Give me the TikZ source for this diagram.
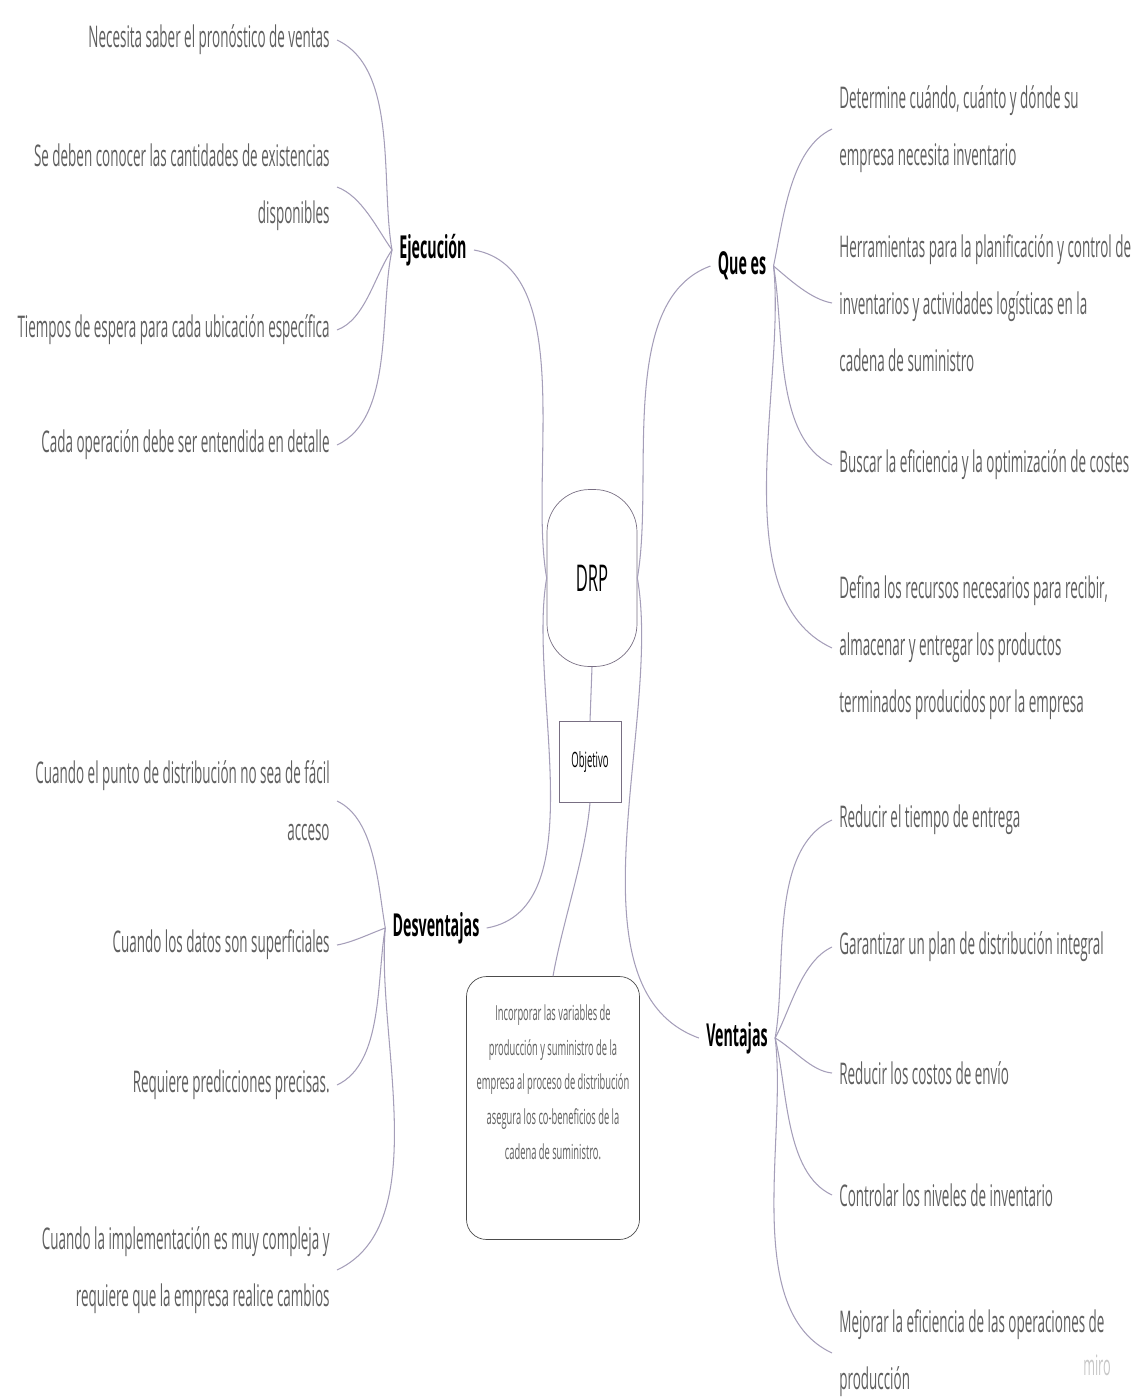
\documentclass[tikz,border=0pt]{standalone}
\usepackage{fontspec}
\newfontfamily\mapfont[FakeStretch=0.45]{Open Sans}
\definecolor{leafgray}{RGB}{95,95,95}
\definecolor{linkgray}{RGB}{165,158,185}
\definecolor{boxgray}{RGB}{120,110,130}
\tikzset{
  every leaf/.style={
    font=\mapfont\fontsize{17}{32.5}\selectfont,
    text=leafgray,
    inner sep=4pt
  },
  every branch/.style={
    font=\mapfont\bfseries\fontsize{18}{20}\selectfont,
    text=black,
    inner sep=4pt
  },
  every link/.style={
    draw=linkgray,
    line width=0.6pt,
    looseness=0.8
  }
}

\begin{document}
\begin{tikzpicture}[x=0.02cm, y=-0.02cm]
  \useasboundingbox (0,0) rectangle (1140,1397);
  % Node placement
  \node [draw=boxgray, rounded corners=0.85cm, minimum width=1.8cm, minimum height=3.54cm,
         font=\mapfont\fontsize{21}{22}\selectfont] (DRP) at (592,578) {DRP};
  \node [draw=boxgray, minimum width=1.24cm, minimum height=1.62cm,
         font=\mapfont\fontsize{12}{13}\selectfont] (OBJ) at (590,762) {Objetivo};
  \node [draw=black!70, rounded corners=0.4cm, minimum width=3.46cm, minimum height=5.26cm,
         align=center, text=leafgray, font=\mapfont\fontsize{11.8}{19.7}\selectfont] (NOTA) at (553,1108)
        {Incorporar las variables de\\producción y suministro de la\\empresa al proceso de distribución\\asegura los co-beneficios de la\\cadena de suministro.\\[10pt]};

  \node [every branch] (EJ) at (433,250) {Ejecución};
  \node [every branch] (QE) at (742,266) {Que es};
  \node [every branch] (DE) at (436,928) {Desventajas};
  \node [every branch] (VE) at (737,1038) {Ventajas};

  \node [every leaf, anchor=east] (E1) at (337,40) {Necesita saber el pronóstico de ventas};
  \node [every leaf, anchor=east, align=right] (E2) at (337,187) {Se deben conocer las cantidades de existencias\\disponibles};
  \node [every leaf, anchor=east] (E3) at (337,330) {Tiempos de espera para cada ubicación específica};
  \node [every leaf, anchor=east] (E4) at (337,445) {Cada operación debe ser entendida en detalle};

  \node [every leaf, anchor=west, align=left] (Q1) at (832,129) {Determine cuándo, cuánto y dónde su\\empresa necesita inventario};
  \node [every leaf, anchor=west, align=left] (Q2) at (832,303) {Herramientas para la planificación y control de\\inventarios y actividades logísticas en la\\cadena de suministro};
  \node [every leaf, anchor=west] (Q3) at (832,465) {Buscar la eficiencia y la optimización de costes};
  \node [every leaf, anchor=west, align=left] (Q4) at (832,648) {Defina los recursos necesarios para recibir,\\almacenar y entregar los productos\\terminados producidos por la empresa};

  \node [every leaf, anchor=east, align=right] (D1) at (337,801) {Cuando el punto de distribución no sea de fácil\\acceso};
  \node [every leaf, anchor=east] (D2) at (337,945) {Cuando los datos son superficiales};
  \node [every leaf, anchor=east] (D3) at (337,1085) {Requiere predicciones precisas.};
  \node [every leaf, anchor=east, align=right] (D4) at (337,1270) {Cuando la implementación es muy compleja y\\requiere que la empresa realice cambios};

  \node [every leaf, anchor=west] (V1) at (832,820) {Reducir el tiempo de entrega};
  \node [every leaf, anchor=west] (V2) at (832,947) {Garantizar un plan de distribución integral};
  \node [every leaf, anchor=west] (V3) at (832,1073) {Reducir los costos de envío};
  \node [every leaf, anchor=west] (V4) at (832,1195) {Controlar los niveles de inventario};
  \node [every leaf, anchor=west, align=left] (V5) at (832,1353) {Mejorar la eficiencia de las operaciones de\\producción};

  \node [font=\mapfont\fontsize{16}{16}\selectfont, text=black!22] (MIRO) at (1097,1365) {miro};

  % Arrows
  \draw [every link] (EJ.east) to[out=-10, in=100] (DRP.west);
  \draw [every link] (DRP.east) to[out=80, in=200] (QE.west);
  \draw [every link] (DE.east) to[out=10, in=-100] (DRP.west);
  \draw [every link] (DRP.east) to[out=-80, in=160] (VE.west);
  \draw [every link] (DRP.south) -- (OBJ.north);
  \draw [every link] (OBJ.south) to[out=-95, in=80] (NOTA.north);

  \draw [every link] (EJ.west) to[out=100, in=-25] (E1.east);
  \draw [every link] (EJ.west) to[out=125, in=-20] (E2.east);
  \draw [every link] (EJ.west) to[out=235, in=20] (E3.east);
  \draw [every link] (EJ.west) to[out=258, in=25] (E4.east);

  \draw [every link] (QE.east) to[out=78, in=205] (Q1.west);
  \draw [every link] (QE.east) to[out=-40, in=170] (Q2.west);
  \draw [every link] (QE.east) to[out=-80, in=155] (Q3.west);
  \draw [every link] (QE.east) to[out=-84, in=155] (Q4.west);

  \draw [every link] (DE.west) to[out=100, in=-25] (D1.east);
  \draw [every link] (DE.west) to[out=200, in=10] (D2.east);
  \draw [every link] (DE.west) to[out=260, in=25] (D3.east);
  \draw [every link] (DE.west) to[out=265, in=25] (D4.east);

  \draw [every link] (VE.east) to[out=80, in=205] (V1.west);
  \draw [every link] (VE.east) to[out=62, in=205] (V2.west);
  \draw [every link] (VE.east) to[out=-30, in=175] (V3.west);
  \draw [every link] (VE.east) to[out=-76, in=155] (V4.west);
  \draw [every link] (VE.east) to[out=-83, in=155] (V5.west);
\end{tikzpicture}
\end{document}
